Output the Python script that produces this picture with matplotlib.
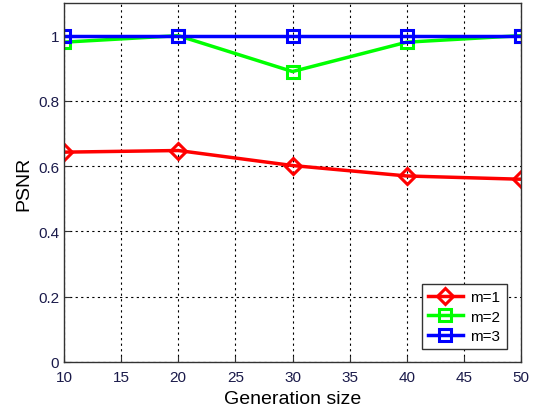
import matplotlib
matplotlib.use("Agg")
import matplotlib.pyplot as plt

gen_size = [10, 20, 30, 40, 50]
m1 = [0.643, 0.648, 0.602, 0.570, 0.560]
m2 = [0.980, 1.000, 0.890, 0.980, 1.000]
m3 = [1.000, 1.000, 1.000, 1.000, 1.000]
xticks = [10, 15, 20, 25, 30, 35, 40, 45, 50]
yticks = [0, 0.2, 0.4, 0.6, 0.8, 1]
ytick_labels = ["0", "0.2", "0.4", "0.6", "0.8", "1"]

plt.rcParams['font.family'] = ['Liberation Sans', 'DejaVu Sans']
fig = plt.figure(figsize=(5.33, 4.10), dpi=100)
ax = fig.add_axes([64/533, 1 - 363/410, (521-64)/533, (363-4)/410])

ax.plot(gen_size, m1, color='#ff0000', lw=2.5, marker='D', ms=8.5, mfc='none', mew=2.2, label='m=1')
ax.plot(gen_size, m2, color='#00ff00', lw=2.5, marker='s', ms=8, mfc='none', mew=2.2, label='m=2')
ax.plot(gen_size, m3, color='#0000ff', lw=2.5, marker='s', ms=8, mfc='none', mew=2.2, label='m=3')

ax.set_xlim(10, 50)
ax.set_ylim(0, 1.1)
ax.set_xticks(xticks)
ax.set_yticks(yticks)
ax.set_yticklabels(ytick_labels)
ax.grid(True, color='black', linestyle=(0, (2, 3)), linewidth=0.8)
ax.tick_params(labelsize=11, direction='in', length=4, colors='#333333', labelcolor='#1a1a4a')
ax.tick_params(axis='x', pad=6)
for s in ax.spines.values():
    s.set_color('#333333')
    s.set_linewidth(1.0)
ax.set_xlabel('Generation size', fontsize=14, labelpad=4)
ax.set_ylabel('PSNR', fontsize=14)
leg = ax.legend(loc='lower right', fontsize=11, fancybox=False, edgecolor='#333333',
                framealpha=1, handlelength=2.3, handletextpad=0.5, borderpad=0.4,
                labelspacing=0.35, bbox_to_anchor=(0.985, 0.015))
leg.get_frame().set_linewidth(1.0)
fig.savefig('out.png', dpi=100)
